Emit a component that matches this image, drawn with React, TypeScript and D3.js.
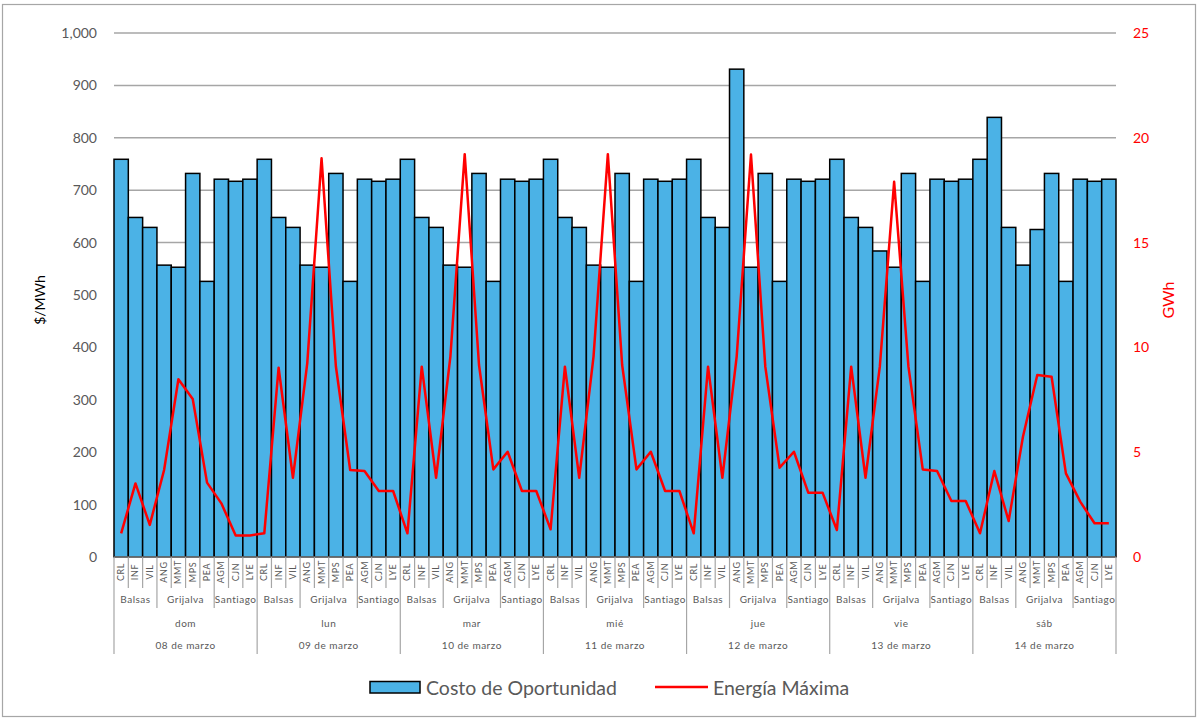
import React from "react";
import * as d3 from "d3";

const plants = ["CRL", "INF", "VIL", "ANG", "MMT", "MPS", "PEA", "AGM", "CJN", "LYE"];
const basins = ["Balsas", "Grijalva", "Santiago"];
const basinSizes = [3, 4, 3];
const days = ["dom", "lun", "mar", "mié", "jue", "vie", "sáb"];
const dates = ["08 de marzo", "09 de marzo", "10 de marzo", "11 de marzo", "12 de marzo", "13 de marzo", "14 de marzo"];

// Costo de Oportunidad ($/MWh), one array per day
const costoDom = [759, 648, 629, 557, 553, 732, 526, 721, 717, 721];
const costoLun = [759, 648, 629, 557, 553, 732, 526, 721, 717, 721];
const costoMar = [759, 648, 629, 557, 553, 732, 526, 721, 717, 721];
const costoMie = [759, 648, 629, 557, 553, 732, 526, 721, 717, 721];
const costoJue = [759, 648, 629, 931, 553, 732, 526, 721, 717, 721];
const costoVie = [759, 648, 629, 584, 553, 732, 526, 721, 717, 721];
const costoSab = [759, 839, 629, 557, 625, 732, 526, 721, 717, 721];

// Energía Máxima (GWh), one array per day
const energiaDom = [1.13, 3.51, 1.53, 4.15, 8.48, 7.54, 3.55, 2.56, 1.03, 1.03];
const energiaLun = [1.13, 9.03, 3.78, 9.24, 19.02, 9.1, 4.15, 4.1, 3.15, 3.15];
const energiaMar = [1.13, 9.08, 3.78, 9.56, 19.22, 9.16, 4.18, 5.02, 3.15, 3.15];
const energiaMie = [1.32, 9.08, 3.78, 9.56, 19.22, 9.16, 4.18, 5.02, 3.15, 3.15];
const energiaJue = [1.13, 9.08, 3.78, 9.56, 19.2, 9.08, 4.26, 5.02, 3.07, 3.07];
const energiaVie = [1.29, 9.08, 3.78, 9.08, 17.9, 9.08, 4.18, 4.1, 2.67, 2.67];
const energiaSab = [1.13, 4.1, 1.72, 5.74, 8.68, 8.6, 3.99, 2.64, 1.61, 1.61];

const leftTicks = [0, 100, 200, 300, 400, 500, 600, 700, 800, 900, 1000];
const rightTicks = [0, 5, 10, 15, 20, 25];

const costo = [costoDom, costoLun, costoMar, costoMie, costoJue, costoVie, costoSab].flat();
const energia = [energiaDom, energiaLun, energiaMar, energiaMie, energiaJue, energiaVie, energiaSab].flat();

const FONT = "Lato, 'Open Sans', sans-serif";
const GREY = "#595959";

export default function App() {
  const W = 1202, H = 721;
  const left = 114, right = 1116, top = 33, bottom = 557;
  const n = costo.length;
  const x = d3.scaleBand<number>().domain(d3.range(n)).range([left, right]).padding(0);
  const yL = d3.scaleLinear().domain([0, 1000]).range([bottom, top]);
  const yR = d3.scaleLinear().domain([0, 25]).range([bottom, top]);
  const bw = x.bandwidth();
  const fmt = d3.format(",");
  const line = d3.line<number>().x((_, i) => (x(i) as number) + bw / 2).y((d) => yR(d));

  const perDay = plants.length;
  const basinStarts: number[] = [];
  basinSizes.reduce((acc, s) => { basinStarts.push(acc); return acc + s; }, 0);

  const catSeps: React.ReactNode[] = [];
  for (let i = 0; i <= n; i++) {
    const xx = i < n ? (x(i) as number) : right;
    const k = i % perDay;
    let y2 = 588;
    if (k === 0 || i === n) y2 = 654;
    else if (basinStarts.includes(k)) y2 = 608;
    catSeps.push(<line key={"s" + i} x1={xx} x2={xx} y1={bottom} y2={y2} stroke="#a6a6a6" strokeWidth={1.2} />);
  }

  return (
    <svg width={W} height={H} style={{ position: "absolute", left: 0, top: 0, fontFamily: FONT }}>
      <rect x={0} y={0} width={W} height={H} fill="#fff" />
      <rect x={2.5} y={4.5} width={1193} height={712} fill="none" stroke="#a6a6a6" strokeWidth={1.2} />
      {leftTicks.map((t) => (
        <g key={"g" + t}>
          {t > 0 && <line x1={left} x2={right} y1={yL(t)} y2={yL(t)} stroke="#a6a6a6" strokeWidth={1.5} />}
          <text x={97} y={yL(t)} dy="0.35em" textAnchor="end" fontSize={14} fill={GREY}>{fmt(t)}</text>
        </g>
      ))}
      {rightTicks.map((t) => (
        <text key={"r" + t} x={1133} y={yR(t)} dy="0.35em" textAnchor="start" fontSize={14} fill="#ff0000">{t}</text>
      ))}
      <text transform={`translate(45,300) rotate(-90)`} textAnchor="middle" fontSize={14} fill="#000">$/MWh</text>
      <text transform={`translate(1174,300) rotate(-90)`} textAnchor="middle" fontSize={16} fill="#ff0000">GWh</text>
      {costo.map((v, i) => (
        <rect key={"b" + i} x={x(i) as number} y={yL(v)} width={bw} height={bottom - yL(v)} fill="#4bb2e6" stroke="#000" strokeWidth={1.5} />
      ))}
      <line x1={left} x2={right} y1={bottom} y2={bottom} stroke="#a6a6a6" strokeWidth={1} />
      <path d={line(energia) || ""} fill="none" stroke="#ff0000" strokeWidth={2.5} strokeLinejoin="round" />
      {catSeps}
      {costo.map((_, i) => (
        <text key={"c" + i} transform={`translate(${(x(i) as number) + bw / 2 + 3},${572}) rotate(-90)`} textAnchor="middle" fontSize={9} fill={GREY} letterSpacing={0.6}>
          {plants[i % perDay]}
        </text>
      ))}
      {days.map((d, di) => {
        const x0 = x(di * perDay) as number;
        return (
          <g key={"d" + di}>
            {basins.map((b, bi) => {
              const xs = x0 + basinStarts[bi] * bw;
              const xe = xs + basinSizes[bi] * bw;
              return (
                <text key={b} x={(xs + xe) / 2} y={603} textAnchor="middle" fontSize={10} fill={GREY} letterSpacing={0.5}>{b}</text>
              );
            })}
            <text x={x0 + (perDay * bw) / 2} y={627} textAnchor="middle" fontSize={10} fill={GREY} letterSpacing={0.5}>{d}</text>
            <text x={x0 + (perDay * bw) / 2} y={649} textAnchor="middle" fontSize={10} fill={GREY} letterSpacing={0.5}>{dates[di]}</text>
          </g>
        );
      })}
      <g>
        <rect x={370} y={681.5} width={50} height={11.5} fill="#4bb2e6" stroke="#000" strokeWidth={1.5} />
        <text x={426} y={694.5} fontSize={19.5} fill={GREY}>Costo de Oportunidad</text>
        <line x1={655} x2={708} y1={687} y2={687} stroke="#ff0000" strokeWidth={2.5} />
        <text x={713} y={694.5} fontSize={19.5} fill={GREY}>Energía Máxima</text>
      </g>
    </svg>
  );
}
